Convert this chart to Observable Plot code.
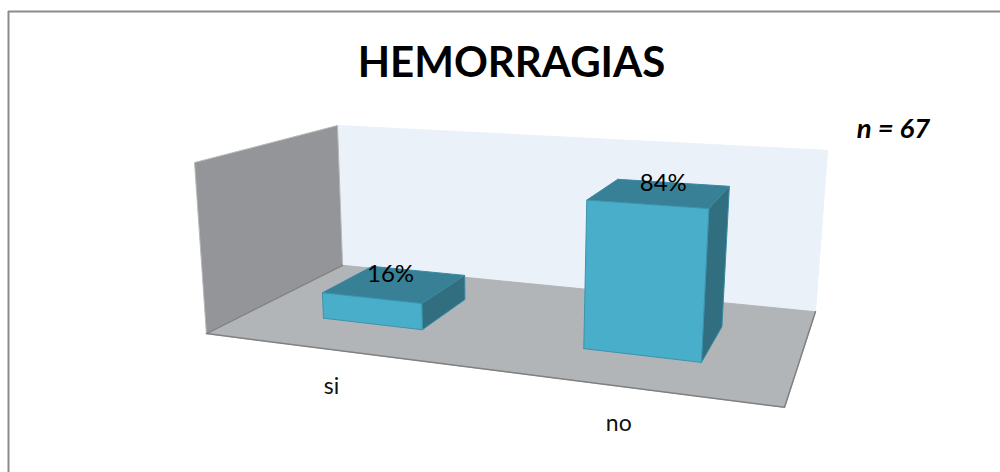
<!DOCTYPE html>
<html>
<head>
<meta charset="utf-8">
<style>html,body{margin:0;padding:0;background:#fff;overflow:hidden}svg{display:block}</style>
<script src="https://cdn.jsdelivr.net/npm/d3@7"></script>
<script src="https://cdn.jsdelivr.net/npm/@observablehq/plot@0.6"></script>
</head>
<body>
<div id="chart"></div>
<script>
const categorias = ["si", "no"];
const valores = [16, 84];
const etiquetas = ["16%", "84%"];
const titulo = "HEMORRAGIAS";
const nota = "n = 67";
const valorMax = 100;

// Camera of the 3-D box: model corners [u, depth, height] seen at picture points.
const camara = [
  [0,0,0, 206,333],[1,0,0, 784,407],[1,1,0, 815,311],[0,1,0, 342,265],
  [0,0,1, 194,162],[0,1,1, 337,125],[1,1,1, 827,150]
];
function ajustar(pts){
  const N = Array.from({length:11},()=>new Array(12).fill(0));
  const add = (r,t)=>{for(let i=0;i<11;i++){for(let j=0;j<11;j++)N[i][j]+=r[i]*r[j];N[i][11]+=r[i]*t;}};
  for(const [a,b,c,x,y] of pts){
    add([a,b,c,1,0,0,0,0,-x*a,-x*b,-x*c],x);
    add([0,0,0,0,a,b,c,1,-y*a,-y*b,-y*c],y);
  }
  for(let i=0;i<11;i++){
    let p=i;for(let k=i+1;k<11;k++)if(Math.abs(N[k][i])>Math.abs(N[p][i]))p=k;
    [N[i],N[p]]=[N[p],N[i]];
    for(let k=0;k<11;k++){if(k===i)continue;const f=N[k][i]/N[i][i];for(let j=i;j<12;j++)N[k][j]-=f*N[i][j];}
  }
  return N.map((r,i)=>r[11]/r[i]);
}
const P = ajustar(camara);
const proyectar = ([u,d,h])=>{
  const w=P[8]*u+P[9]*d+P[10]*h+1;
  return [(P[0]*u+P[1]*d+P[2]*h+P[3])/w,(P[4]*u+P[5]*d+P[6]*h+P[7])/w];
};

const U = d3.scaleBand(categorias,[0,1]).paddingInner(0.6).paddingOuter(0.3);
const D = d3.scaleBand(["serie"],[0,1]).paddingInner(0.6).paddingOuter(0.3);
const H = d3.scaleLinear([0,valorMax],[0,1]);
const d0 = D("serie"), d1 = d0 + D.bandwidth();

const cara = (esquinas, fill, stroke, strokeWidth=1) => {
  const pts = [...esquinas, esquinas[0]].map(proyectar);
  return Plot.line(pts,{x:p=>p[0],y:p=>p[1],fill,stroke:stroke||fill,strokeWidth,strokeLinejoin:"round",curve:"linear"});
};
const borde = (esquinas, stroke, strokeWidth) =>
  Plot.line(esquinas.map(proyectar),{x:p=>p[0],y:p=>p[1],stroke,strokeWidth,curve:"linear"});

const caja = [
  cara([[0,1,0],[1,1,0],[1,1,1],[0,1,1]],"#eaf1f8","#eaf1f8"),
  cara([[0,0,0],[0,1,0],[0,1,1],[0,0,1]],"#939598","#b5b8ba"),
  cara([[0,0,0],[1,0,0],[1,1,0],[0,1,0]],"#b1b5b8","#b1b5b8"),
  borde([[0,1,0],[0,0,0],[1,0,0],[1,1,0]],"#808080",1.5)
];
const barras = categorias.flatMap((c,i)=>{
  const a=U(c), b=a+U.bandwidth(), h=H(valores[i]);
  return [
    cara([[a,d1,h],[b,d1,h],[b,d0,h],[a,d0,h]],"#378096","#3a8aa2"),
    cara([[b,d0,0],[b,d1,0],[b,d1,h],[b,d0,h]],"#306e80","#3a8aa2"),
    cara([[a,d0,0],[b,d0,0],[b,d0,h],[a,d0,h]],"#49aec9","#3d93ad")
  ];
});

const pos = c => proyectar([U(c)+U.bandwidth()/2,0,0]);
const cima = i => proyectar([U(categorias[i])+U.bandwidth()/2,D("serie")+D.bandwidth()/2,H(valores[i])]);
const fuente = "Lato, 'Open Sans', sans-serif";

const plot = Plot.plot({
  width:1000,height:472,margin:0,
  x:{domain:[0,1000],range:[0,1000],axis:null},
  y:{domain:[0,472],range:[0,472],axis:null},
  marks:[
    Plot.ruleY([11],{x1:8,x2:1000,stroke:"#8c8c8c",strokeWidth:2}),
    Plot.ruleX([8],{y1:11,y2:472,stroke:"#8c8c8c",strokeWidth:2}),
    ...caja,
    ...barras,
    Plot.text(categorias,{x:c=>pos(c)[0],y:c=>pos(c)[1],dy:37,text:c=>c,fontSize:23,fill:"#111",fontFamily:fuente}),
    ...etiquetas.map((t,i)=>Plot.text([t],{x:()=>cima(i)[0],y:()=>cima(i)[1],dx:i?3:-5,dy:-9.5,text:d=>d,fontSize:24,fill:"#000",fontFamily:fuente})),
    Plot.text([titulo],{x:[511],y:[63],text:d=>d,fontSize:42,fontWeight:"bold",fill:"#000",fontFamily:fuente}),
    Plot.text([nota],{x:[893],y:[129],text:d=>d,fontSize:27.5,fontWeight:"bold",fontStyle:"italic",fill:"#000",fontFamily:fuente})
  ]
});
document.getElementById("chart").append(plot);
</script>
</body>
</html>
